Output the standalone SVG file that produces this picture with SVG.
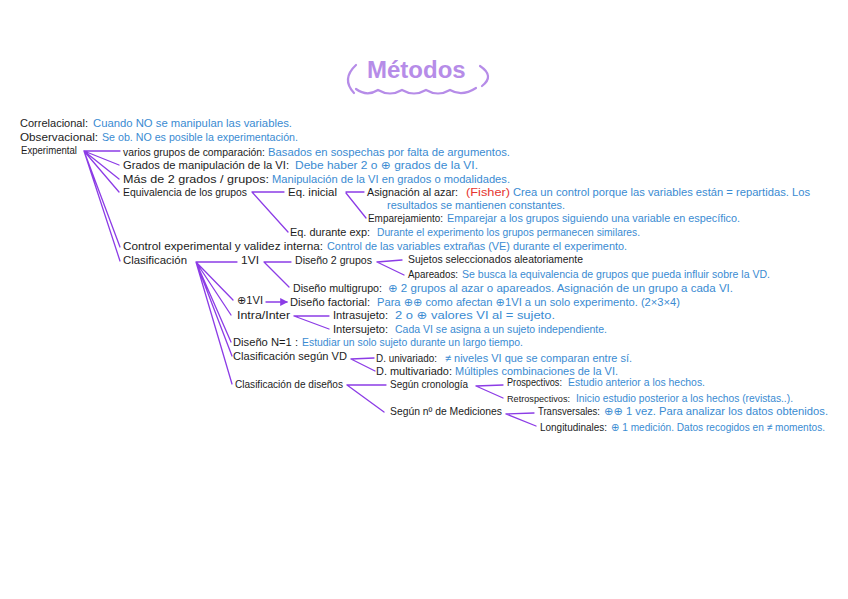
<svg xmlns="http://www.w3.org/2000/svg" width="848" height="599" viewBox="0 0 848 599">
<defs>
<style>
text{font-family:"Liberation Sans","DejaVu Sans",sans-serif;font-size:11px}
.k{fill:#1c1c1c}
.b{fill:#3a8bd2}
.r{fill:#e5342f}
.t{font-family:"Liberation Sans",sans-serif;font-size:24px;font-weight:bold;fill:#b68ce8}
.c{fill:none;stroke:#8c3ce6;stroke-width:1.3;stroke-linecap:round}
.cl{fill:none;stroke:#b68ce8;stroke-width:2.2;stroke-linecap:round}
</style>
<marker id="ah" viewBox="0 0 8 8" refX="7" refY="4" markerWidth="6" markerHeight="6" orient="auto"><path d="M0 0 L8 4 L0 8 Z" fill="#8c3ce6"/></marker>
</defs>
<rect width="848" height="599" fill="#ffffff"/>
<g id="title">
<path class="cl" d="M356 65 Q341 79 354 93"/>
<path class="cl" d="M480 66 Q495 76 482 86"/>
<path class="cl" d="M356 89 Q367 97 378 90 Q390 97 402 90 Q414 97 426 90 Q438 97 450 90 Q462 97 476 88"/>
<text class="t" x="367" y="78">Métodos</text>
</g>
<g id="connectors">
<path class="c" d="M84 151 L120 151 M84 151 L119 165 M84 151 L119 179 M84 151 L119 192 M84 151 L120 247 M84 151 L120 261"/>
<path class="c" d="M252 192 L284 192 M252 192 L288 232"/>
<path class="c" d="M346 192 L364 192 M346 193 L366 218"/>
<path class="c" d="M196 262 L237 262 M196 262 L233 300 M196 262 L231 315 M196 262 L231 342 M196 262 L232 356 M196 262 L232 384"/>
<path class="c" d="M264 262 L291 262 M264 262 L289 287"/>
<path class="c" d="M377 262 L402 260 M377 262 L404 275"/>
<path class="c" d="M266 302 L287 302" marker-end="url(#ah)"/>
<path class="c" d="M294 316 L329 316 M294 316 L329 329"/>
<path class="c" d="M351 359 L374 358 M351 359 L375 371"/>
<path class="c" d="M347 385 L386 385 M347 385 L384 412"/>
<path class="c" d="M476 386 L503 385 M476 386 L503 398"/>
<path class="c" d="M506 414 L534 413 M506 414 L536 426"/>
</g>
<g id="correlacional"><text class="k" x="20" y="127" textLength="68" lengthAdjust="spacingAndGlyphs">Correlacional:</text><text class="b" x="93" y="127" textLength="199" lengthAdjust="spacingAndGlyphs">Cuando NO se manipulan las variables.</text></g>
<g id="observacional"><text class="k" x="20" y="141" textLength="78" lengthAdjust="spacingAndGlyphs">Observacional:</text><text class="b" x="102" y="141" textLength="196" lengthAdjust="spacingAndGlyphs">Se ob. NO es posible la experimentación.</text></g>
<g id="experimental"><text class="k" x="21" y="154" textLength="56" lengthAdjust="spacingAndGlyphs">Experimental</text></g>
<g id="varios"><text class="k" x="123" y="156" textLength="142" lengthAdjust="spacingAndGlyphs">varios grupos de comparación:</text><text class="b" x="268" y="156" textLength="242" lengthAdjust="spacingAndGlyphs">Basados en sospechas por falta de argumentos.</text></g>
<g id="grados"><text class="k" x="123" y="169" textLength="166" lengthAdjust="spacingAndGlyphs">Grados de manipulación de la VI:</text><text class="b" x="295" y="169" textLength="183" lengthAdjust="spacingAndGlyphs">Debe haber 2 o ⊕ grados de la VI.</text></g>
<g id="mas2"><text class="k" x="123" y="183" textLength="146" lengthAdjust="spacingAndGlyphs">Más de 2 grados / grupos:</text><text class="b" x="272" y="183" textLength="238" lengthAdjust="spacingAndGlyphs">Manipulación de la VI en grados o modalidades.</text></g>
<g id="equivalencia"><text class="k" x="123" y="196" textLength="124" lengthAdjust="spacingAndGlyphs">Equivalencia de los grupos</text></g>
<g id="eqinicial"><text class="k" x="288" y="196" textLength="49" lengthAdjust="spacingAndGlyphs">Eq. inicial</text></g>
<g id="asignacion"><text class="k" x="367" y="196" textLength="91" lengthAdjust="spacingAndGlyphs">Asignación al azar:</text><text class="r" x="466" y="196" textLength="44" lengthAdjust="spacingAndGlyphs">(Fisher)</text><text class="b" x="513" y="196" textLength="297" lengthAdjust="spacingAndGlyphs">Crea un control porque las variables están = repartidas. Los</text><text class="b" x="387" y="209" textLength="178" lengthAdjust="spacingAndGlyphs">resultados se mantienen constantes.</text></g>
<g id="emparejamiento"><text class="k" x="368" y="222" textLength="75" lengthAdjust="spacingAndGlyphs">Emparejamiento:</text><text class="b" x="447" y="222" textLength="293" lengthAdjust="spacingAndGlyphs">Emparejar a los grupos siguiendo una variable en específico.</text></g>
<g id="eqdurante"><text class="k" x="290" y="236" textLength="80" lengthAdjust="spacingAndGlyphs">Eq. durante exp:</text><text class="b" x="377" y="236" textLength="263" lengthAdjust="spacingAndGlyphs">Durante el experimento los grupos permanecen similares.</text></g>
<g id="control"><text class="k" x="123" y="250" textLength="200" lengthAdjust="spacingAndGlyphs">Control experimental y validez interna:</text><text class="b" x="327" y="250" textLength="300" lengthAdjust="spacingAndGlyphs">Control de las variables extrañas (VE) durante el experimento.</text></g>
<g id="clasificacion"><text class="k" x="123" y="264" textLength="64" lengthAdjust="spacingAndGlyphs">Clasificación</text></g>
<g id="unvi"><text class="k" x="241" y="264" textLength="18" lengthAdjust="spacingAndGlyphs">1VI</text></g>
<g id="disenio2"><text class="k" x="295" y="264" textLength="77" lengthAdjust="spacingAndGlyphs">Diseño 2 grupos</text></g>
<g id="sujetos"><text class="k" x="408" y="263" textLength="175" lengthAdjust="spacingAndGlyphs">Sujetos seleccionados aleatoriamente</text></g>
<g id="apareados"><text class="k" x="408" y="278" textLength="50" lengthAdjust="spacingAndGlyphs">Apareados:</text><text class="b" x="462" y="278" textLength="308" lengthAdjust="spacingAndGlyphs">Se busca la equivalencia de grupos que pueda influir sobre la VD.</text></g>
<g id="multigrupo"><text class="k" x="293" y="292" textLength="89" lengthAdjust="spacingAndGlyphs">Diseño multigrupo:</text><text class="b" x="388" y="292" textLength="345" lengthAdjust="spacingAndGlyphs">⊕ 2 grupos al azar o apareados. Asignación de un grupo a cada VI.</text></g>
<g id="masvi"><text class="k" x="237" y="304" textLength="26" lengthAdjust="spacingAndGlyphs">⊕1VI</text></g>
<g id="factorial"><text class="k" x="290" y="306" textLength="80" lengthAdjust="spacingAndGlyphs">Diseño factorial:</text><text class="b" x="377" y="306" textLength="303" lengthAdjust="spacingAndGlyphs">Para ⊕⊕ como afectan ⊕1VI a un solo experimento. (2×3×4)</text></g>
<g id="intrainter"><text class="k" x="237" y="319" textLength="53" lengthAdjust="spacingAndGlyphs">Intra/Inter</text></g>
<g id="intrasujeto"><text class="k" x="333" y="319" textLength="55" lengthAdjust="spacingAndGlyphs">Intrasujeto:</text><text class="b" x="395" y="319" textLength="160" lengthAdjust="spacingAndGlyphs">2 o ⊕ valores VI al = sujeto.</text></g>
<g id="intersujeto"><text class="k" x="333" y="333" textLength="55" lengthAdjust="spacingAndGlyphs">Intersujeto:</text><text class="b" x="395" y="333" textLength="212" lengthAdjust="spacingAndGlyphs">Cada VI se asigna a un sujeto independiente.</text></g>
<g id="disenioN1"><text class="k" x="233" y="346" textLength="65" lengthAdjust="spacingAndGlyphs">Diseño N=1 :</text><text class="b" x="302" y="346" textLength="221" lengthAdjust="spacingAndGlyphs">Estudiar un solo sujeto durante un largo tiempo.</text></g>
<g id="segunvd"><text class="k" x="233" y="360" textLength="114" lengthAdjust="spacingAndGlyphs">Clasificación según VD</text></g>
<g id="univariado"><text class="k" x="376" y="362" textLength="61" lengthAdjust="spacingAndGlyphs">D. univariado:</text><text class="b" x="445" y="362" textLength="187" lengthAdjust="spacingAndGlyphs">≠ niveles VI que se comparan entre sí.</text></g>
<g id="multivariado"><text class="k" x="376" y="375" textLength="76" lengthAdjust="spacingAndGlyphs">D. multivariado:</text><text class="b" x="455" y="375" textLength="163" lengthAdjust="spacingAndGlyphs">Múltiples combinaciones de la VI.</text></g>
<g id="clasdisenios"><text class="k" x="235" y="388" textLength="108" lengthAdjust="spacingAndGlyphs">Clasificación de diseños</text></g>
<g id="cronologia"><text class="k" x="390" y="388" textLength="78" lengthAdjust="spacingAndGlyphs">Según cronología</text></g>
<g id="prospectivos"><text class="k" x="507" y="386" textLength="55" lengthAdjust="spacingAndGlyphs">Prospectivos:</text><text class="b" x="568" y="386" textLength="137" lengthAdjust="spacingAndGlyphs">Estudio anterior a los hechos.</text></g>
<g id="retrospectivos"><text class="k" x="507" y="402" style="font-size:9.5px" textLength="63" lengthAdjust="spacingAndGlyphs">Retrospectivos:</text><text class="b" x="576" y="402" textLength="217" lengthAdjust="spacingAndGlyphs">Inicio estudio posterior a los hechos (revistas..).</text></g>
<g id="mediciones"><text class="k" x="390" y="415" textLength="112" lengthAdjust="spacingAndGlyphs">Según nº de Mediciones</text></g>
<g id="transversales"><text class="k" x="538" y="415" textLength="62" lengthAdjust="spacingAndGlyphs">Transversales:</text><text class="b" x="604" y="415" textLength="224" lengthAdjust="spacingAndGlyphs">⊕⊕ 1 vez. Para analizar los datos obtenidos.</text></g>
<g id="longitudinales"><text class="k" x="540" y="431" textLength="67" lengthAdjust="spacingAndGlyphs">Longitudinales:</text><text class="b" x="611" y="431" textLength="214" lengthAdjust="spacingAndGlyphs">⊕ 1 medición. Datos recogidos en ≠ momentos.</text></g>
</svg>
